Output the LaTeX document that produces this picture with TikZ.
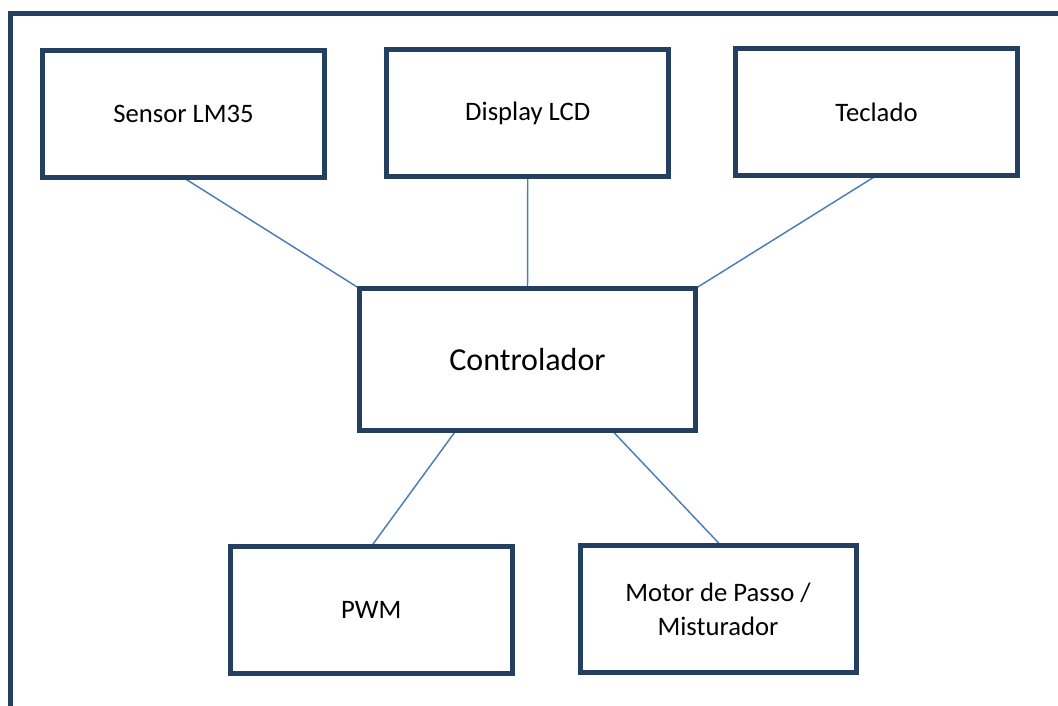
\documentclass[tikz,border=0pt]{standalone}
\usepackage{fontspec}
\setmainfont{Carlito}
\usetikzlibrary{backgrounds}
\definecolor{boxline}{HTML}{243F60}
\definecolor{wireblue}{HTML}{4A7EBB}
\begin{document}
\begin{tikzpicture}[x=0.75pt,y=-0.75pt,
  block/.style={draw=boxline, line width=3.75pt, fill=white, rectangle,
    outer sep=0pt, inner sep=0pt, minimum width=211.5pt, minimum height=95.25pt,
    align=center, font=\fontsize{20}{25.5}\selectfont},
  wire/.style={draw=wireblue, line width=1.1pt},
  frame/.style={draw=boxline, line width=3.75pt}]
\useasboundingbox (0,0) rectangle (1058,706);
\clip (0,0) rectangle (1058,706);

% outer frame (only top and left edges fall inside the page)
\draw[frame] (1070,14) -- (10.5,14) -- (10.5,720);

% blocks
\node[block] (sensor)  at (183.5,114.2) {Sensor LM35};
\node[block] (display) at (527.75,113)  {Display LCD};
\node[block] (keys)    at (876.5,112)   {Teclado};
\node[block, minimum width=252pt, minimum height=106.5pt,
      font=\fontsize{24}{29}\selectfont] (ctrl) at (527.5,359.5) {Controlador};
\node[block] (pwm)     at (371.25,610)  {PWM};
\node[block, minimum width=207pt] (motor) at (718,609) {Motor de Passo /\\Misturador};

% connections
\begin{scope}[on background layer]
\draw[wire] (sensor.south)  -- (ctrl.north west);
\draw[wire] (display.south) -- (ctrl.north);
\draw[wire] (keys.south)    -- (ctrl.north east);
\draw[wire] ([xshift=-71.5*0.75pt]ctrl.south) -- (pwm.north);
\draw[wire] ([xshift=84.5*0.75pt]ctrl.south)  -- ([xshift=2.25pt]motor.north);
\end{scope}
\end{tikzpicture}
\end{document}
